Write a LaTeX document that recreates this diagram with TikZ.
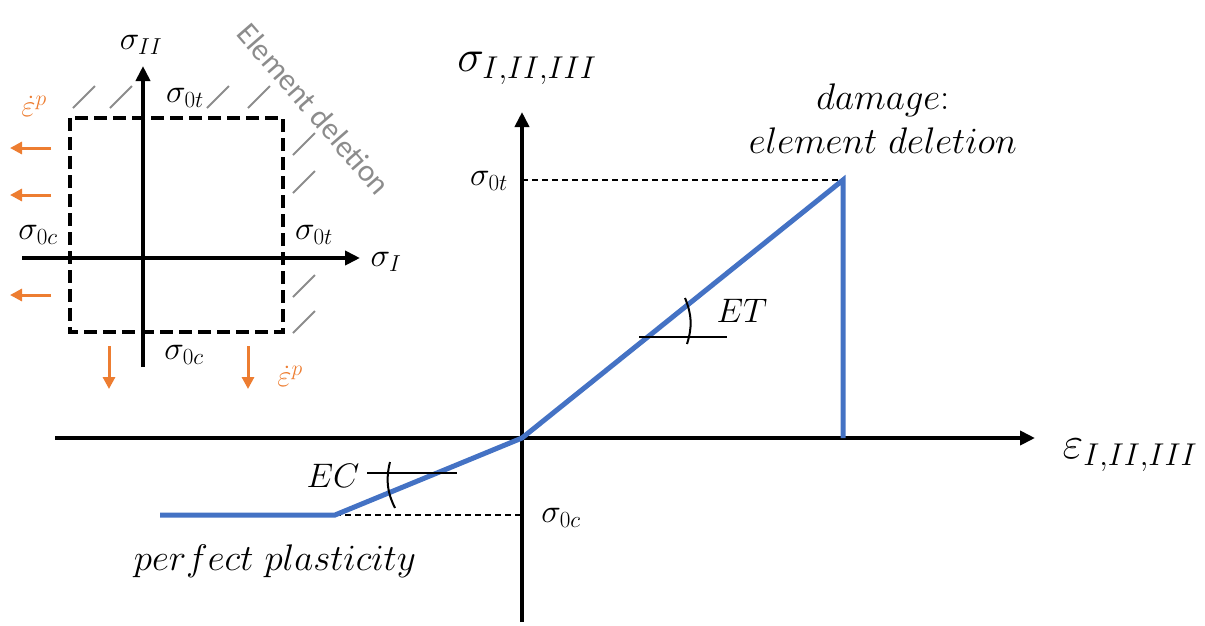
\RequirePackage{fix-cm}
\documentclass[tikz,border=0pt]{standalone}
\usepackage{fontspec}
\newfontfamily\carlito{Carlito}
\usetikzlibrary{arrows.meta}
\definecolor{cblue}{HTML}{4472C4}
\definecolor{corange}{HTML}{ED7D31}
\definecolor{cgray}{HTML}{8C8C8C}
\tikzset{
  axis/.style={line width=4pt,-{Triangle[length=15pt,width=14pt]}},
  curve/.style={cblue,line width=5pt,line join=miter},
  guide/.style={line width=2pt,dash pattern=on 6pt off 4pt},
  tick/.style={line width=2pt},
  yieldbox/.style={line width=4pt,dash pattern=on 13pt off 6pt},
  slash/.style={cgray,line width=2pt},
  flow/.style={corange,line width=3pt,-{Triangle[length=12pt,width=12pt]}},
  lbl/.style={inner sep=0pt,font=\fontsize{33}{38}\selectfont},
  big/.style={inner sep=0pt,font=\fontsize{45}{50}\selectfont},
  word/.style={inner sep=0pt,font=\fontsize{37}{42}\selectfont},
  olbl/.style={inner sep=0pt,text=corange,font=\fontsize{31}{36}\selectfont},
}
\begin{document}
\begin{tikzpicture}[x=1pt,y=-1pt]
\useasboundingbox (0,0) rectangle (1205,625);

% ---------------- main chart ----------------
\coordinate (Vb) at (522,622);
\coordinate (Vt) at (522,112);
\coordinate (Hl) at (55,438);
\coordinate (Hr) at (1035,438);
\coordinate (O) at (522,438);
\coordinate (P0) at (160,515);
\coordinate (P1) at (335,515);
\coordinate (P3) at (843,180);
\coordinate (P4) at (843,438);
\coordinate (Yt) at (522,180);
\coordinate (Yc) at (522,515);

\draw[guide] (Yt) -- (P3);
\draw[guide] (P1) -- (Yc);
\draw[axis] (Vb) -- (Vt);
\draw[axis] (Hl) -- (Hr);
\draw[curve] (P0) -- (P1) -- (O) -- (P3) -- (P4);

% ET angle
\coordinate (ETa) at (639,337);
\coordinate (ETb) at (727,337);
\coordinate (ETc) at (685,298);
\coordinate (ETd) at (687,344);
\draw[tick] (ETa) -- (ETb);
\draw[tick] (ETc) to[bend left=20] (ETd);
% EC angle
\coordinate (ECa) at (367,473);
\coordinate (ECb) at (457,473);
\coordinate (ECc) at (390,462);
\coordinate (ECd) at (395,508);
\draw[tick] (ECa) -- (ECb);
\draw[tick] (ECc) to[bend right=20] (ECd);

\node[big] (tsig) at (527,68) {$\sigma_{I,II,III}$};
\node[big] (teps) at (1130,455) {$\varepsilon_{I,II,III}$};
\node[lbl] (s0t) at (489,181) {$\sigma_{0t}$};
\node[lbl] (s0c) at (561,518) {$\sigma_{0c}$};
\node[word] (dmg) at (883,100) {$damage$:};
\node[word] (edel) at (883,141) {$element\ deletion$};
\node[word,font=\fontsize{34}{38}\selectfont] (et) at (742,311) {$ET$};
\node[word,font=\fontsize{34}{38}\selectfont] (ec) at (333,476) {$EC$};
\node[word] (pp) at (275,561) {$perfect\ plasticity$};

% ---------------- yield surface sketch ----------------
\coordinate (sh1) at (22,258);
\coordinate (sh2) at (360,258);
\coordinate (sv1) at (143,367);
\coordinate (sv2) at (143,66);
\draw[yieldbox] (70,118) rectangle (283,332);
\draw[axis] (sh1) -- (sh2);
\draw[axis] (sv1) -- (sv2);

\foreach \x in {73,110,207,248}
  \draw[slash] (\x,108) -- ++(22,-22);
\foreach \y in {155,193,297,333}
  \draw[slash] (293,\y) -- ++(22,-22);

\foreach \y in {148,195,295}
  \draw[flow] (51,\y) -- (10,\y);
\foreach \x in {109,248}
  \draw[flow] (\x,346) -- (\x,389);

\node[lbl] (sII) at (141,45) {$\sigma_{II}$};
\node[lbl] (sI) at (386,262) {$\sigma_{I}$};
\node[lbl] (b0t) at (185,98) {$\sigma_{0t}$};
\node[lbl] (b0cl) at (38,235) {$\sigma_{0c}$};
\node[lbl] (b0tr) at (314,235) {$\sigma_{0t}$};
\node[lbl] (b0cb) at (184,355) {$\sigma_{0c}$};
\node[olbl] (ep1) at (34,106) {$\dot{\varepsilon}^{p}$};
\node[olbl] (ep2) at (290,376) {$\dot{\varepsilon}^{p}$};
\node[inner sep=0pt,text=cgray,rotate=-49,font=\carlito\fontsize{31}{35}\selectfont] (del) at (314,109) {Element deletion};
\end{tikzpicture}
\end{document}
